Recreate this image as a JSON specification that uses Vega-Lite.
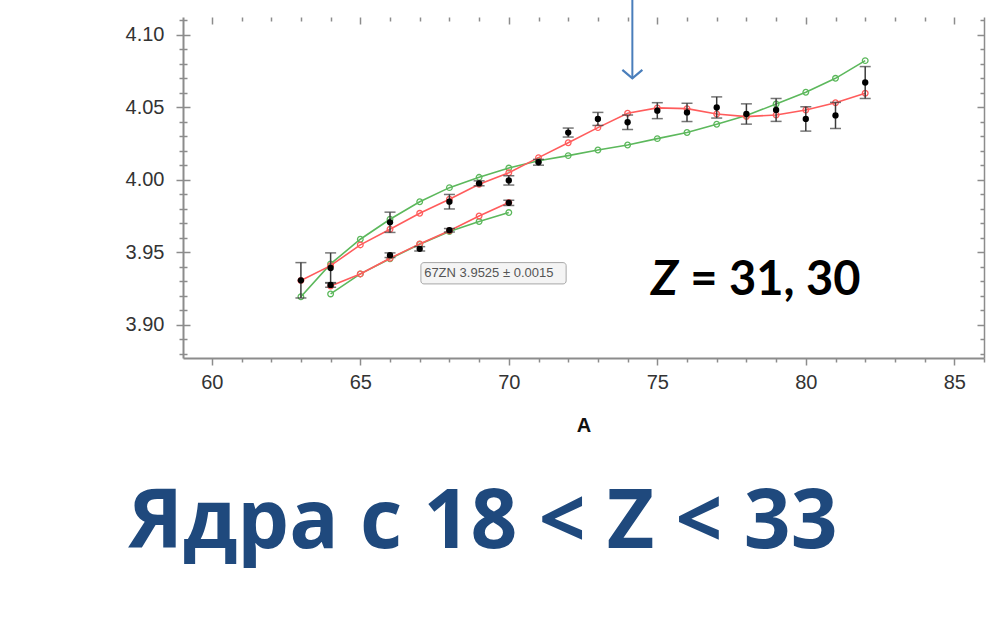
{
  "$schema": "https://vega.github.io/schema/vega-lite/v6.json",
  "width": 801,
  "height": 341,
  "autosize": {"type": "none"},
  "padding": {"left": 183, "top": 17, "right": 15, "bottom": 283},
  "background": "white",
  "config": {
    "view": {"stroke": null},
    "axis": {
      "domainColor": "#8c8c8c", "domainWidth": 2,
      "tickColor": "#8c8c8c", "tickWidth": 1.5,
      "gridColor": "#8c8c8c", "gridWidth": 1.5, "gridOpacity": 1,
      "labelFont": "Liberation Sans", "labelFontSize": 20, "labelColor": "#333333",
      "titleFont": "Liberation Sans", "titleFontSize": 20, "titleFontWeight": "bold", "titleColor": "#111111"
    }
  },
  "datasets": {
    "exp": [
      {"A": 63, "r": 3.9308, "err": 0.0122, "chain": "Ga"},
      {"A": 64, "r": 3.9393, "err": 0.0104, "chain": "Ga"},
      {"A": 66, "r": 3.9708, "err": 0.0070, "chain": "Ga"},
      {"A": 68, "r": 3.9850, "err": 0.0050, "chain": "Ga"},
      {"A": 69, "r": 3.9977, "err": 0.0017, "chain": "Ga"},
      {"A": 70, "r": 3.9997, "err": 0.0032, "chain": "Ga"},
      {"A": 71, "r": 4.0122, "err": 0.0020, "chain": "Ga"},
      {"A": 72, "r": 4.0327, "err": 0.0031, "chain": "Ga"},
      {"A": 73, "r": 4.0421, "err": 0.0045, "chain": "Ga"},
      {"A": 74, "r": 4.0398, "err": 0.0050, "chain": "Ga"},
      {"A": 75, "r": 4.0478, "err": 0.0055, "chain": "Ga"},
      {"A": 76, "r": 4.0466, "err": 0.0063, "chain": "Ga"},
      {"A": 77, "r": 4.0500, "err": 0.0073, "chain": "Ga"},
      {"A": 78, "r": 4.0455, "err": 0.0070, "chain": "Ga"},
      {"A": 79, "r": 4.0483, "err": 0.0079, "chain": "Ga"},
      {"A": 80, "r": 4.0421, "err": 0.0084, "chain": "Ga"},
      {"A": 81, "r": 4.0445, "err": 0.0090, "chain": "Ga"},
      {"A": 82, "r": 4.0672, "err": 0.0110, "chain": "Ga"},
      {"A": 64, "r": 3.9276, "err": 0.0016, "chain": "Zn"},
      {"A": 66, "r": 3.9481, "err": 0.0016, "chain": "Zn"},
      {"A": 67, "r": 3.9525, "err": 0.0015, "chain": "Zn"},
      {"A": 68, "r": 3.9653, "err": 0.0012, "chain": "Zn"},
      {"A": 70, "r": 3.9842, "err": 0.0018, "chain": "Zn"}
    ],
    "red": [
      {"A": 63, "r": 3.9306, "chain": "Ga"},
      {"A": 64, "r": 3.9409, "chain": "Ga"},
      {"A": 65, "r": 3.9552, "chain": "Ga"},
      {"A": 66, "r": 3.9660, "chain": "Ga"},
      {"A": 67, "r": 3.9770, "chain": "Ga"},
      {"A": 68, "r": 3.9867, "chain": "Ga"},
      {"A": 69, "r": 3.9970, "chain": "Ga"},
      {"A": 70, "r": 4.0050, "chain": "Ga"},
      {"A": 71, "r": 4.0154, "chain": "Ga"},
      {"A": 72, "r": 4.0257, "chain": "Ga"},
      {"A": 73, "r": 4.0361, "chain": "Ga"},
      {"A": 74, "r": 4.0460, "chain": "Ga"},
      {"A": 75, "r": 4.0497, "chain": "Ga"},
      {"A": 76, "r": 4.0492, "chain": "Ga"},
      {"A": 77, "r": 4.0455, "chain": "Ga"},
      {"A": 78, "r": 4.0437, "chain": "Ga"},
      {"A": 79, "r": 4.0448, "chain": "Ga"},
      {"A": 80, "r": 4.0483, "chain": "Ga"},
      {"A": 81, "r": 4.0533, "chain": "Ga"},
      {"A": 82, "r": 4.0598, "chain": "Ga"},
      {"A": 64, "r": 3.9269, "chain": "Zn"},
      {"A": 65, "r": 3.9352, "chain": "Zn"},
      {"A": 66, "r": 3.9460, "chain": "Zn"},
      {"A": 67, "r": 3.9559, "chain": "Zn"},
      {"A": 68, "r": 3.9650, "chain": "Zn"},
      {"A": 69, "r": 3.9752, "chain": "Zn"},
      {"A": 70, "r": 3.9844, "chain": "Zn"}
    ],
    "green": [
      {"A": 63, "r": 3.9195, "chain": "Ga"},
      {"A": 64, "r": 3.9421, "chain": "Ga"},
      {"A": 65, "r": 3.9591, "chain": "Ga"},
      {"A": 66, "r": 3.9729, "chain": "Ga"},
      {"A": 67, "r": 3.9850, "chain": "Ga"},
      {"A": 68, "r": 3.9947, "chain": "Ga"},
      {"A": 69, "r": 4.0018, "chain": "Ga"},
      {"A": 70, "r": 4.0082, "chain": "Ga"},
      {"A": 71, "r": 4.0133, "chain": "Ga"},
      {"A": 72, "r": 4.0168, "chain": "Ga"},
      {"A": 73, "r": 4.0207, "chain": "Ga"},
      {"A": 74, "r": 4.0241, "chain": "Ga"},
      {"A": 75, "r": 4.0285, "chain": "Ga"},
      {"A": 76, "r": 4.0327, "chain": "Ga"},
      {"A": 77, "r": 4.0384, "chain": "Ga"},
      {"A": 78, "r": 4.0444, "chain": "Ga"},
      {"A": 79, "r": 4.0524, "chain": "Ga"},
      {"A": 80, "r": 4.0605, "chain": "Ga"},
      {"A": 81, "r": 4.0701, "chain": "Ga"},
      {"A": 82, "r": 4.0823, "chain": "Ga"},
      {"A": 64, "r": 3.9214, "chain": "Zn"},
      {"A": 65, "r": 3.9352, "chain": "Zn"},
      {"A": 66, "r": 3.9457, "chain": "Zn"},
      {"A": 67, "r": 3.9556, "chain": "Zn"},
      {"A": 68, "r": 3.9644, "chain": "Zn"},
      {"A": 69, "r": 3.9713, "chain": "Zn"},
      {"A": 70, "r": 3.9775, "chain": "Zn"}
    ]
  },
  "encoding": {
    "x": {
      "field": "A", "type": "quantitative",
      "scale": {"domain": [59.03, 86], "nice": false, "zero": false},
      "axis": {
        "title": "A",
        "values": [60,61,62,63,64,65,66,67,68,69,70,71,72,73,74,75,76,77,78,79,80,81,82,83,84,85,86],
        "labelExpr": "datum.value % 5 === 0 ? datum.label : ''",
        "labelOverlap": false, "labelFlush": false, "labelPadding": 7,
        "tickSize": {"condition": {"test": "datum.value % 5 === 0", "value": 7}, "value": 4},
        "grid": true,
        "gridDash": {"condition": [{"test": "datum.value >= 86", "value": []}, {"test": "datum.value % 5 === 0", "value": [7, 2000]}], "value": [4, 2000]},
        "titlePadding": 23
      }
    },
    "y": {
      "field": "r", "type": "quantitative",
      "scale": {"domain": [3.8772, 4.1124], "nice": false, "zero": false},
      "axis": {
        "title": null,
        "values": [3.88,3.89,3.9,3.91,3.92,3.93,3.94,3.95,3.96,3.97,3.98,3.99,4.0,4.01,4.02,4.03,4.04,4.05,4.06,4.07,4.08,4.09,4.1,4.11],
        "labelExpr": "abs(datum.value*20 - round(datum.value*20)) < 0.01 ? format(datum.value, '.2f') : ''",
        "labelOverlap": false, "labelFlush": false, "labelPadding": 12,
        "tickSize": {"condition": {"test": "abs(datum.value*20 - round(datum.value*20)) < 0.01", "value": 7}, "value": 4},
        "grid": true,
        "gridDash": {"condition": {"test": "abs(datum.value*20 - round(datum.value*20)) < 0.01", "value": [7, 787, 7, 1000]}, "value": [4, 793, 4, 1000]}
      }
    }
  },
  "layer": [
    {
      "data": {"name": "green"},
      "mark": {"type": "line", "color": "#5CB85C", "strokeWidth": 1.6, "point": {"filled": false, "size": 32, "strokeWidth": 1.3, "color": "#5CB85C"}},
      "encoding": {"detail": {"field": "chain"}}
    },
    {
      "data": {"name": "red"},
      "mark": {"type": "line", "color": "#FF5C5C", "strokeWidth": 1.6, "point": {"filled": false, "size": 32, "strokeWidth": 1.3, "color": "#FF5C5C"}},
      "encoding": {"detail": {"field": "chain"}}
    },
    {
      "data": {"name": "exp"},
      "mark": {"type": "errorbar", "color": "#3c3c3c", "thickness": 1.5, "ticks": {"size": 11, "thickness": 1.5, "color": "#3c3c3c"}},
      "encoding": {"yError": {"field": "err"}}
    },
    {
      "data": {"name": "exp"},
      "mark": {"type": "point", "filled": true, "color": "#000000", "size": 40, "opacity": 1}
    },
    {
      "data": {"values": [{"A": 74.16, "r": 4.1245, "r2": 4.0701}]},
      "mark": {"type": "rule", "color": "#4A7EBB", "strokeWidth": 2},
      "encoding": {"y2": {"field": "r2"}}
    },
    {
      "data": {"values": [{"A": 74.16, "r": 4.0701}]},
      "mark": {"type": "point", "shape": "M-1,-0.85L0,0L1,-0.85", "filled": false, "size": 400, "strokeWidth": 2.2, "color": "#4A7EBB", "opacity": 1}
    },
    {
      "data": {"values": [{"A": 67.04, "A2": 71.93, "r": 3.9430, "r2": 3.9283}]},
      "mark": {"type": "rect", "fill": "#f4f4f4", "stroke": "#a6a6a6", "strokeWidth": 1, "cornerRadius": 3},
      "encoding": {"x2": {"field": "A2"}, "y2": {"field": "r2"}}
    },
    {
      "data": {"values": [{"A": 67.15, "r": 3.9357, "label": "67ZN  3.9525 ± 0.0015"}]},
      "mark": {"type": "text", "align": "left", "baseline": "middle", "font": "Liberation Sans", "fontSize": 13, "color": "#555555"},
      "encoding": {"text": {"field": "label"}}
    },
    {
      "data": {"values": [{"A": 74.79, "r": 3.9207, "label": "Z"}]},
      "mark": {"type": "text", "align": "left", "baseline": "alphabetic", "font": "Lato", "fontSize": 48, "fontWeight": "bold", "fontStyle": "italic", "color": "#000000"},
      "encoding": {"text": {"field": "label"}}
    },
    {
      "data": {"values": [{"A": 76.11, "r": 3.9207, "label": "= 31, 30"}]},
      "mark": {"type": "text", "align": "left", "baseline": "alphabetic", "font": "Lato", "fontSize": 47, "fontWeight": "bold", "color": "#000000"},
      "encoding": {"text": {"field": "label"}}
    },
    {
      "data": {"values": [{"A": 69.13, "r": 3.7462, "label": "Ядра с 18 < Z < 33"}]},
      "mark": {"type": "text", "align": "center", "baseline": "alphabetic", "font": "Open Sans", "fontSize": 82, "fontWeight": "bold", "color": "#1F497D"},
      "encoding": {"text": {"field": "label"}}
    }
  ]
}
